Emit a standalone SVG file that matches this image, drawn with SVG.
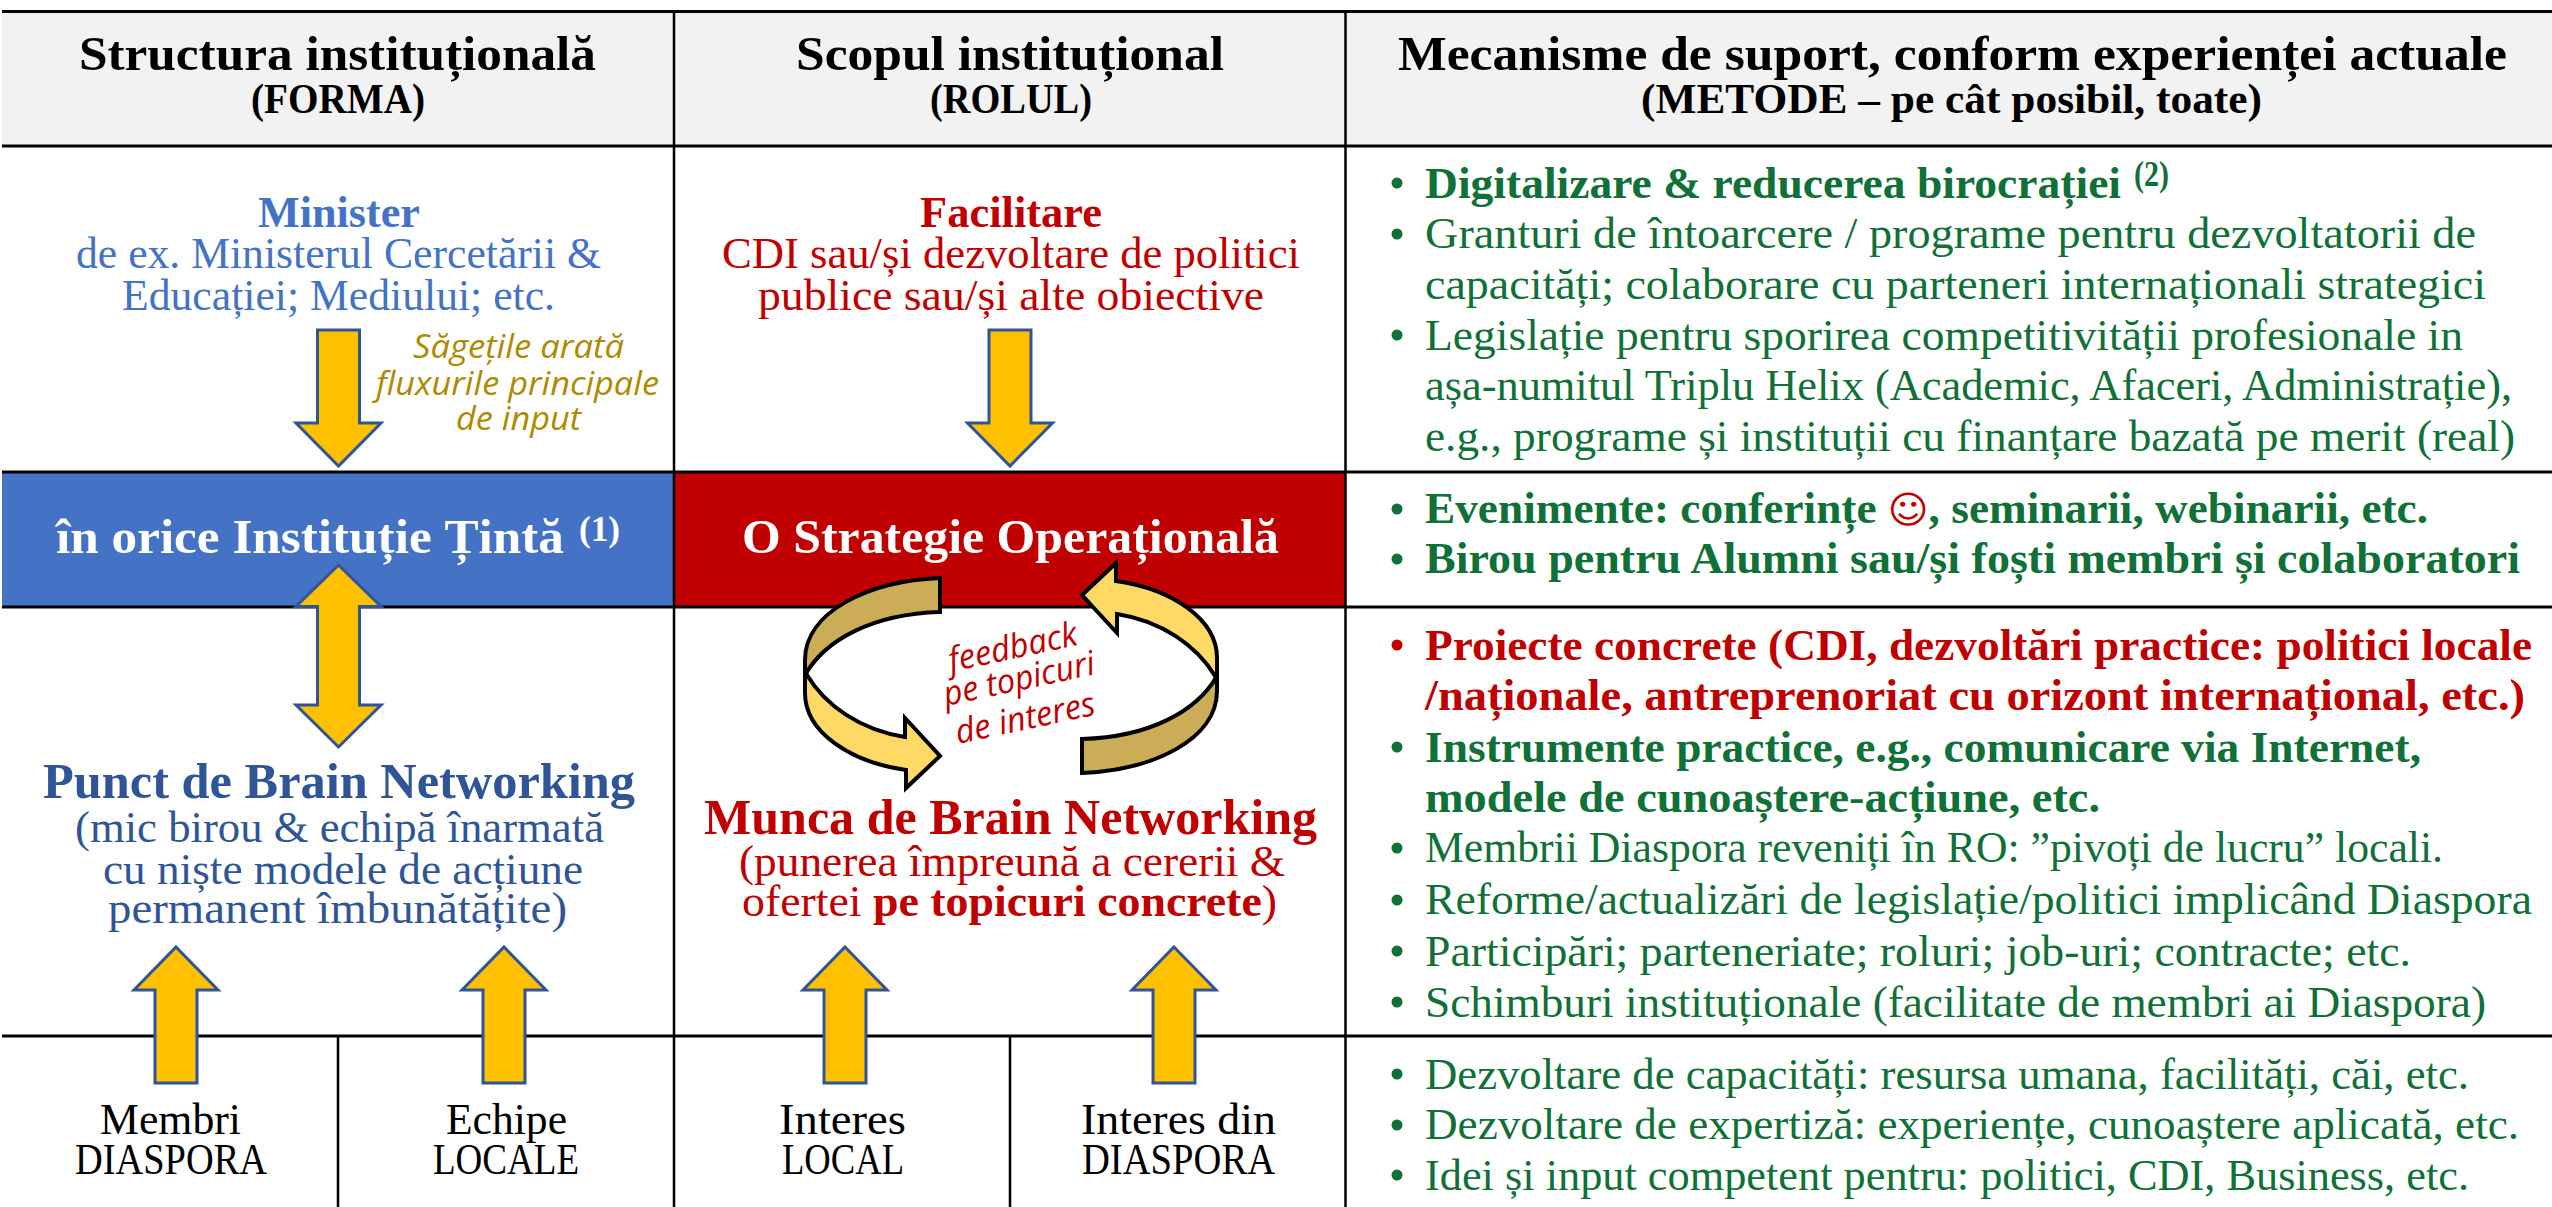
<svg xmlns="http://www.w3.org/2000/svg" width="2552" height="1207" viewBox="0 0 2552 1207">
<style>
text{font-family:"Liberation Serif","Times New Roman",serif;font-size:44px}
.h{font-size:49px;font-weight:700;fill:#000}
.s{font-size:43px;font-weight:700;fill:#000}
.b{font-weight:700}
.w{font-size:49px;font-weight:700;fill:#fff}
.big{font-size:51px;font-weight:700}
.blue{fill:#4472c4}.navy{fill:#2f5597}.red{fill:#c00000}.green{fill:#0f7038}.blk{fill:#000}
.it{font-family:"Open Sans",sans-serif;font-style:italic;font-size:33px;fill:#ae8a00}
.fb{font-family:"Open Sans",sans-serif;font-style:italic;font-size:34px;fill:#c00000}
.sup{font-size:35px;font-weight:700}
.ln{stroke:#000;fill:none}
.ar{fill:#ffc000;stroke:#2f5597;stroke-width:3;stroke-linejoin:miter}
.cd{fill:#cbad57;stroke:#000;stroke-width:4}
.cy{fill:#ffd966;stroke:#000;stroke-width:4}
.bu{fill:#0f7038}.bur{fill:#c00000}
</style>
<rect width="2552" height="1207" fill="#fff"/>
<g id="grid">
<rect x="2" y="12" width="2550" height="134" fill="#f2f2f2"/>
<rect x="2" y="472" width="672" height="135" fill="#4472c4"/>
<rect x="674" y="472" width="672" height="135" fill="#c00000"/>
<path class="ln" stroke-width="3" d="M2 11.500H2552M2 146H2552M2 472H2552M2 607H2552M2 1036H2552"/>
<path class="ln" stroke-width="2.500" d="M674 12V1207M1345.500 12V1207M338 1036V1207M1010 1036V1207"/>
</g>
<g id="header-forma"><text class="h" x="79" y="70" textLength="517" lengthAdjust="spacingAndGlyphs">Structura instituțională</text><text class="s" x="251" y="113" textLength="174" lengthAdjust="spacingAndGlyphs">(FORMA)</text></g>
<g id="header-rolul"><text class="h" x="796" y="70" textLength="428" lengthAdjust="spacingAndGlyphs">Scopul instituțional</text><text class="s" x="930" y="113" textLength="162" lengthAdjust="spacingAndGlyphs">(ROLUL)</text></g>
<g id="header-metode"><text class="h" x="1398" y="70" textLength="1109" lengthAdjust="spacingAndGlyphs">Mecanisme de suport, conform experienței actuale</text><text class="s" x="1641" y="113" textLength="621" lengthAdjust="spacingAndGlyphs">(METODE – pe cât posibil, toate)</text></g>
<g id="minister"><text class="b blue" x="258" y="227" textLength="162" lengthAdjust="spacingAndGlyphs">Minister</text><text class="blue" x="76" y="267.500" textLength="525" lengthAdjust="spacingAndGlyphs">de ex. Ministerul Cercetării &amp;</text><text class="blue" x="122" y="309.500" textLength="433" lengthAdjust="spacingAndGlyphs">Educației; Mediului; etc.</text></g>
<g id="facilitare"><text class="b red" x="920" y="227" textLength="182" lengthAdjust="spacingAndGlyphs">Facilitare</text><text class="red" x="722" y="267.500" textLength="578" lengthAdjust="spacingAndGlyphs">CDI sau/și dezvoltare de politici</text><text class="red" x="758" y="309.500" textLength="506" lengthAdjust="spacingAndGlyphs">publice sau/și alte obiective</text></g>
<g id="nota-sageti"><text class="it" x="413" y="358" textLength="211" lengthAdjust="spacingAndGlyphs">Săgețile arată</text><text class="it" x="376" y="395" textLength="283" lengthAdjust="spacingAndGlyphs">fluxurile principale</text><text class="it" x="456" y="430" textLength="125" lengthAdjust="spacingAndGlyphs">de input</text></g>
<g id="institutie-tinta"><text class="w" x="56" y="553" textLength="508" lengthAdjust="spacingAndGlyphs">în orice Instituție Țintă</text><text class="sup" fill="#fff" x="579" y="541" textLength="41" lengthAdjust="spacingAndGlyphs">(1)</text></g>
<g id="strategie"><text class="w" x="742" y="553" textLength="537" lengthAdjust="spacingAndGlyphs">O Strategie Operațională</text></g>
<g id="metode-1">
<circle class="bu" cx="1397" cy="183" r="5.500"/><circle class="bu" cx="1397" cy="234" r="5.500"/><circle class="bu" cx="1397" cy="335" r="5.500"/>
<text class="b green" x="1425" y="198" textLength="696" lengthAdjust="spacingAndGlyphs">Digitalizare &amp; reducerea birocrației</text><text class="sup green" x="2134" y="186" textLength="35" lengthAdjust="spacingAndGlyphs">(2)</text>
<text class="green" x="1425" y="248" textLength="1051" lengthAdjust="spacingAndGlyphs">Granturi de întoarcere / programe pentru dezvoltatorii de</text>
<text class="green" x="1425" y="299" textLength="1061" lengthAdjust="spacingAndGlyphs">capacități; colaborare cu parteneri internaționali strategici</text>
<text class="green" x="1425" y="350" textLength="1038" lengthAdjust="spacingAndGlyphs">Legislație pentru sporirea competitivității profesionale in</text>
<text class="green" x="1425" y="400" textLength="1087" lengthAdjust="spacingAndGlyphs">așa-numitul Triplu Helix (Academic, Afaceri, Administrație),</text>
<text class="green" x="1425" y="451" textLength="1090" lengthAdjust="spacingAndGlyphs">e.g., programe și instituții cu finanțare bazată pe merit (real)</text>
</g>
<g id="metode-2">
<circle class="bu" cx="1397" cy="509" r="5.500"/><circle class="bu" cx="1397" cy="559" r="5.500"/>
<text class="b green" x="1425" y="523" textLength="1003" lengthAdjust="spacingAndGlyphs">Evenimente: conferințe <tspan class="red" style="font-family:'DejaVu Sans',sans-serif;font-weight:400;font-size:38px">☺</tspan>, seminarii, webinarii, etc.</text>
<text class="b green" x="1425" y="573" textLength="1095" lengthAdjust="spacingAndGlyphs">Birou pentru Alumni sau/și foști membri și colaboratori</text>
</g>
<g id="metode-3">
<circle class="bur" cx="1397" cy="645" r="5.500"/><circle class="bu" cx="1397" cy="747" r="5.500"/><circle class="bu" cx="1397" cy="848" r="5.500"/><circle class="bu" cx="1397" cy="900" r="5.500"/><circle class="bu" cx="1397" cy="951" r="5.500"/><circle class="bu" cx="1397" cy="1002" r="5.500"/>
<text class="b red" x="1425" y="660" textLength="1107" lengthAdjust="spacingAndGlyphs">Proiecte concrete (CDI, dezvoltări practice: politici locale</text>
<text class="b red" x="1425" y="710" textLength="1100" lengthAdjust="spacingAndGlyphs">/naționale, antreprenoriat cu orizont internațional, etc.)</text>
<text class="b green" x="1425" y="762" textLength="996" lengthAdjust="spacingAndGlyphs">Instrumente practice, e.g., comunicare via Internet,</text>
<text class="b green" x="1425" y="812" textLength="675" lengthAdjust="spacingAndGlyphs">modele de cunoaștere-acțiune, etc.</text>
<text class="green" x="1425" y="862" textLength="1018" lengthAdjust="spacingAndGlyphs">Membrii Diaspora reveniți în RO: ”pivoți de lucru” locali.</text>
<text class="green" x="1425" y="914" textLength="1107" lengthAdjust="spacingAndGlyphs">Reforme/actualizări de legislație/politici implicând Diaspora</text>
<text class="green" x="1425" y="966" textLength="986" lengthAdjust="spacingAndGlyphs">Participări; parteneriate; roluri; job-uri; contracte; etc.</text>
<text class="green" x="1425" y="1017" textLength="1061" lengthAdjust="spacingAndGlyphs">Schimburi instituționale (facilitate de membri ai Diaspora)</text>
</g>
<g id="metode-4">
<circle class="bu" cx="1397" cy="1074" r="5.500"/><circle class="bu" cx="1397" cy="1125" r="5.500"/><circle class="bu" cx="1397" cy="1175" r="5.500"/>
<text class="green" x="1425" y="1089" textLength="1044" lengthAdjust="spacingAndGlyphs">Dezvoltare de capacități: resursa umana, facilități, căi, etc.</text>
<text class="green" x="1425" y="1139" textLength="1094" lengthAdjust="spacingAndGlyphs">Dezvoltare de expertiză: experiențe, cunoaștere aplicată, etc.</text>
<text class="green" x="1425" y="1190" textLength="1044" lengthAdjust="spacingAndGlyphs">Idei și input competent pentru: politici, CDI, Business, etc.</text>
</g>
<g id="punct"><text class="big navy" x="43" y="798" textLength="592" lengthAdjust="spacingAndGlyphs">Punct de Brain Networking</text><text class="navy" x="75" y="842" textLength="529" lengthAdjust="spacingAndGlyphs">(mic birou &amp; echipă înarmată</text><text class="navy" x="103" y="884" textLength="480" lengthAdjust="spacingAndGlyphs">cu niște modele de acțiune</text><text class="navy" x="108" y="923" textLength="459" lengthAdjust="spacingAndGlyphs">permanent îmbunătățite)</text></g>
<g id="munca"><text class="big red" x="704" y="834" textLength="613" lengthAdjust="spacingAndGlyphs">Munca de Brain Networking</text><text class="red" x="739" y="876" textLength="546" lengthAdjust="spacingAndGlyphs">(punerea împreună a cererii &amp;</text><text class="red" x="742" y="916" textLength="535" lengthAdjust="spacingAndGlyphs">ofertei <tspan class="b">pe topicuri concrete</tspan>)</text></g>
<g id="membri"><text class="blk" x="100" y="1134" textLength="141" lengthAdjust="spacingAndGlyphs">Membri</text><text class="blk" x="75" y="1174" textLength="192" lengthAdjust="spacingAndGlyphs">DIASPORA</text></g>
<g id="echipe"><text class="blk" x="446" y="1134" textLength="121" lengthAdjust="spacingAndGlyphs">Echipe</text><text class="blk" x="433" y="1174" textLength="146" lengthAdjust="spacingAndGlyphs">LOCALE</text></g>
<g id="interes-local"><text class="blk" x="779" y="1134" textLength="127" lengthAdjust="spacingAndGlyphs">Interes</text><text class="blk" x="782" y="1174" textLength="122" lengthAdjust="spacingAndGlyphs">LOCAL</text></g>
<g id="interes-diaspora"><text class="blk" x="1081" y="1134" textLength="195" lengthAdjust="spacingAndGlyphs">Interes din</text><text class="blk" x="1082" y="1174" textLength="193" lengthAdjust="spacingAndGlyphs">DIASPORA</text></g>
<g id="connectors">
<path class="ar" d="M317.500 330H359.500V423H381L338.500 466L296 423H317.500Z" />
<path class="ar" d="M989 330H1031V423H1052.500L1010 466L967.500 423H989Z"/>
<path class="ar" d="M338.500 565L381 606.500H359.500V705H381L338.500 747L296 705H317.500V606.500H296Z"/>
<path class="ar" d="M176 947L218 990H197V1083H155V990H134Z"/>
<path class="ar" d="M504 947L546 990H525V1083H483V990H462Z"/>
<path class="ar" d="M845 947L887 990H866V1083H824V990H803Z"/>
<path class="ar" d="M1174 947L1216 990H1195V1083H1153V990H1132Z"/>
</g>
<g id="ciclu-feedback">
<path class="cd" d="M940 578C868 581 805 612 805 660V675C825 640 872 614 940 612Z"/>
<path class="cy" d="M805 675V693C805 732 850 762 906 770V788L940 756L905 718V737C860 730 825 705 807 675Z"/>
<path class="cd" d="M1082 773C1154 770 1217 739 1217 691V676C1197 711 1150 737 1082 739Z"/>
<path class="cy" d="M1217 676V658C1217 619 1172 589 1116 581V563L1082 595L1117 633V614C1162 621 1197 646 1215 676Z"/>
<text class="fb" transform="translate(951 672) rotate(-12)" textLength="131" lengthAdjust="spacingAndGlyphs">feedback</text>
<text class="fb" transform="translate(946 706) rotate(-12)" textLength="154" lengthAdjust="spacingAndGlyphs">pe topicuri</text>
<text class="fb" transform="translate(958 744) rotate(-12)" textLength="142" lengthAdjust="spacingAndGlyphs">de interes</text>
</g>
</svg>
